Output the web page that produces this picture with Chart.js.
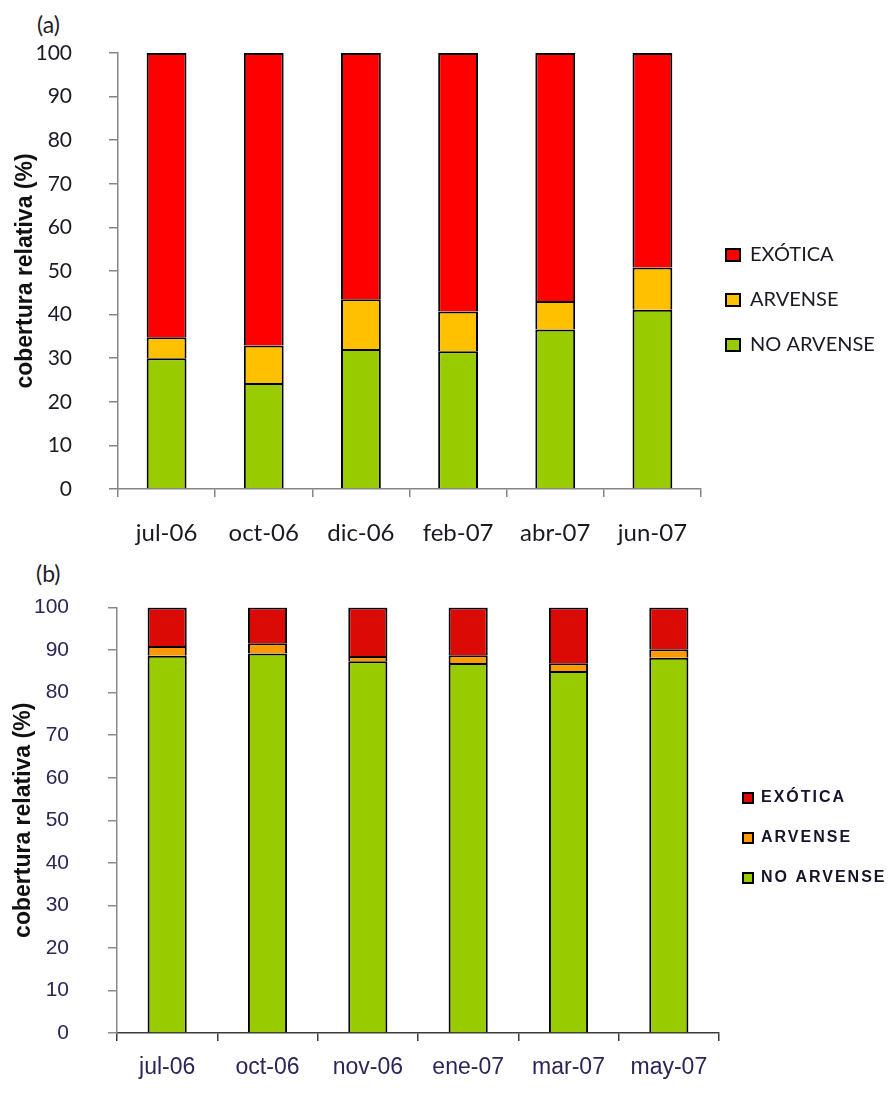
<!DOCTYPE html>
<html><head><meta charset="utf-8">
<script src="https://cdn.jsdelivr.net/npm/chart.js@4.4.1/dist/chart.umd.min.js"></script>
<style>
html,body{margin:0;padding:0;background:#fff;overflow:hidden;width:892px;height:1095px;}
#wrap{position:relative;width:892px;height:1095px;}
canvas{position:absolute;left:0;}
#ca{top:0}
#cb{top:556px}
.lab{position:absolute;font-family:Lato,sans-serif;font-size:23px;line-height:1;color:#1d1d2b;}
</style></head>
<body><div id="wrap">
<div class="lab" style="left:37px;top:13px">(a)</div>
<div class="lab" style="left:36px;top:562px">(b)</div>
<canvas id="ca" width="892" height="555"></canvas>
<canvas id="cb" width="892" height="539"></canvas>
</div>
<script>
// ---- data ----
const seriesNames = ['EXÓTICA', 'ARVENSE', 'NO ARVENSE'];
const yTitle = 'cobertura relativa (%)';
const yTickValues = [0, 10, 20, 30, 40, 50, 60, 70, 80, 90, 100];

const categoriesA = ['jul-06', 'oct-06', 'dic-06', 'feb-07', 'abr-07', 'jun-07'];
const noArvenseA  = [30.0, 24.3, 32.1, 31.6, 36.6, 41.1];
const arvenseA    = [4.8, 8.6, 11.4, 9.1, 6.5, 9.7];
const exoticaA    = [65.2, 67.1, 56.5, 59.3, 56.9, 49.2];

const categoriesB = ['jul-06', 'oct-06', 'nov-06', 'ene-07', 'mar-07', 'may-07'];
const noArvenseB  = [88.7, 89.2, 87.4, 87.0, 85.1, 88.2];
const arvenseB    = [2.3, 2.4, 1.2, 1.8, 1.8, 2.0];
const exoticaB    = [9.0, 8.4, 11.4, 11.2, 13.1, 9.8];

function buildChart(id, p) {
  const datasets = [
    {label: seriesNames[2], data: p.noArv, backgroundColor: p.colors[2]},
    {label: seriesNames[1], data: p.arv, backgroundColor: p.colors[1]},
    {label: seriesNames[0], data: p.exo, backgroundColor: p.colors[0]}
  ].map(d => Object.assign(d, {
    borderColor: '#000', borderWidth: 2, borderSkipped: 'start',
    barPercentage: p.barPct, categoryPercentage: 1
  }));
  const plugins = [{
    id: 'legendPlace',
    afterLayout(chart) {
      const lg = chart.legend;
      const h = lg.bottom - lg.top;
      lg.top = p.legendMid - h / 2;
      lg.bottom = lg.top + h;
      lg.right = chart.width;
      lg.width = lg.right - lg.left;
    }
  }];
  if (p.letterSpacing) {
    plugins.push({
      id: 'lsp',
      afterInit(chart) {
        const lg = chart.legend;
        const orig = lg.draw.bind(lg);
        lg.draw = function (a) {
          const c = chart.ctx; c.save(); c.letterSpacing = p.letterSpacing; orig(a); c.restore();
        };
      }
    });
  }
  const chart = new Chart(document.getElementById(id), {
    type: 'bar',
    data: {labels: p.cats, datasets},
    plugins,
    options: {
      responsive: false, animation: false, devicePixelRatio: 1,
      layout: {padding: {top: p.padTop, bottom: 0, left: 0, right: 0}},
      plugins: {
        legend: {
          position: 'right', align: 'center', reverse: true,
          labels: {font: p.legendFont, color: p.legendColor, boxWidth: p.boxW, boxHeight: p.boxH, padding: p.legendPad}
        },
        tooltip: {enabled: false},
        title: {display: false}
      },
      scales: {
        x: {
          stacked: true,
          afterFit: s => { s.height = p.xHeight; },
          grid: {drawOnChartArea: false, drawTicks: true, tickLength: 8, color: p.xAxisColor, lineWidth: 1.5, offset: true},
          border: {display: true, color: p.xAxisColor, width: 1.5},
          ticks: {font: p.xFont, color: p.tickColor, padding: p.xPad, maxRotation: 0, autoSkip: false}
        },
        y: {
          stacked: true, min: 0, max: 100,
          afterFit: s => { s.width = p.yWidth; },
          afterBuildTicks: s => { s.ticks = yTickValues.map(v => ({value: v})); },
          grid: {drawOnChartArea: false, drawTicks: true, tickLength: 9, color: p.yAxisColor, lineWidth: 1.5},
          border: {display: true, color: p.yAxisColor, width: 1.5},
          ticks: {font: p.yFont, color: p.tickColor, padding: p.yPad},
          title: {display: true, text: yTitle, color: '#111',
            font: {family: 'Liberation Sans', size: 23, weight: 'bold'},
            padding: {top: p.titlePad, bottom: 0}}
        }
      }
    }
  });
  // align chart-area right edge with the reference
  const d = chart.chartArea.right - p.right;
  if (Math.abs(d) > 0.3) {
    chart.options.layout.padding.right = Math.max(0, d);
    chart.update('none');
  }
  return chart;
}

function go() {
  buildChart('ca', {
    cats: categoriesA, noArv: noArvenseA, arv: arvenseA, exo: exoticaA,
    colors: ['#FF0000', '#FFC000', '#99CC00'],
    barPct: 0.41, padTop: 53, xHeight: 66, yWidth: 118, right: 701, legendMid: 300,
    legendFont: {family: 'Lato', size: 20}, legendColor: '#1a1a24', boxW: 14, boxH: 12, legendPad: 25,
    xAxisColor: '#868686', yAxisColor: '#868686',
    xFont: {family: 'Lato', size: 24}, yFont: {family: 'Lato', size: 21},
    tickColor: '#1a1a24', xPad: 22, yPad: 37, titlePad: 12
  });
  buildChart('cb', {
    cats: categoriesB, noArv: noArvenseB, arv: arvenseB, exo: exoticaB,
    colors: ['#DC0A04', '#FF9900', '#99CC00'],
    barPct: 0.39, padTop: 49, xHeight: 62, yWidth: 117, right: 719, legendMid: 282,
    legendFont: {family: 'Liberation Sans', size: 16, weight: 'bold'}, legendColor: '#14142a', boxW: 10, boxH: 10, legendPad: 24,
    letterSpacing: '2px',
    xAxisColor: '#3a3a3a', yAxisColor: '#8a8a8a',
    xFont: {family: 'Liberation Sans', size: 23}, yFont: {family: 'Liberation Sans', size: 21},
    tickColor: '#2e2458', xPad: 13, yPad: 39, titlePad: 10
  });
}
Promise.all([
  document.fonts.load('20px Lato'),
  document.fonts.load('20px "Liberation Sans"'),
  document.fonts.load('bold 20px "Liberation Sans"')
]).then(go, go);
</script>
</body></html>
